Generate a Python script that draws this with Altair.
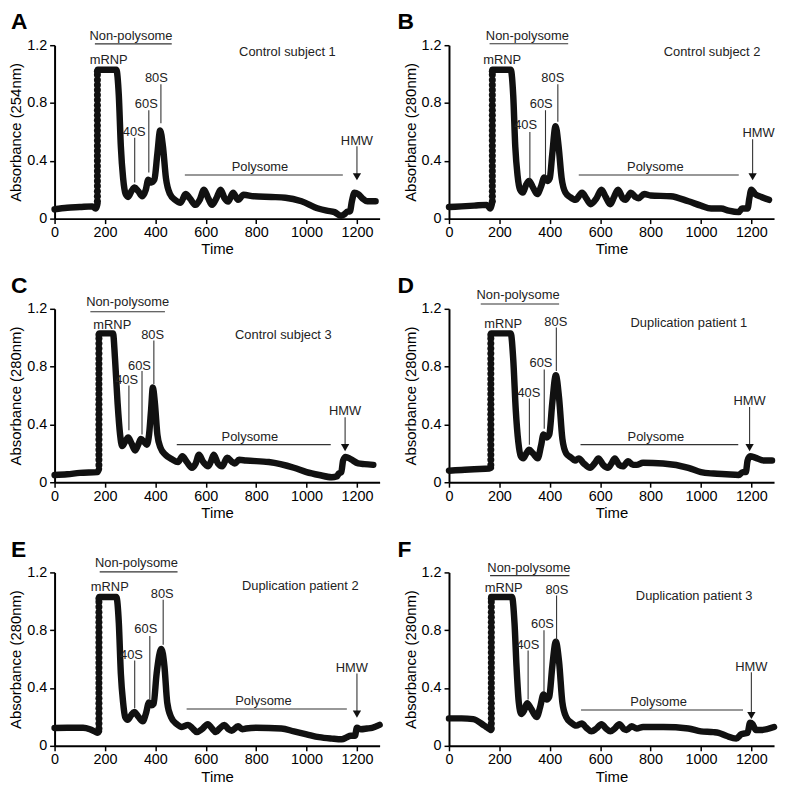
import altair as alt
import pandas as pd

FONT = "Liberation Sans"
X_TICKS = [0, 200, 400, 600, 800, 1000, 1200]
Y_TICKS = [0, 0.4, 0.8, 1.2]
LETTERS = ["A", "B", "C", "D", "E", "F"]
SUBJECTS = ["Control subject 1", "Control subject 2", "Control subject 3",
            "Duplication patient 1", "Duplication patient 2", "Duplication patient 3"]
Y_TITLES = ["Absorbance (254nm)", "Absorbance (280nm)", "Absorbance (280nm)",
            "Absorbance (280nm)", "Absorbance (280nm)", "Absorbance (280nm)"]
LABELS = ["Non-polysome", "mRNP", "40S", "60S", "80S", "SUBJECT", "Polysome", "HMW"]

# dots of the steep rise at the start of the mRNP peak
RISE_Y = [0.12, 0.155, 0.19, 0.225, 0.26, 0.295, 0.33, 0.365, 0.40, 0.435, 0.47, 0.505,
          0.54, 0.575, 0.61, 0.645, 0.68, 0.715, 0.75, 0.785, 0.82, 0.855, 0.89, 0.925,
          0.96, 0.995, 1.02]
RISE_X = [170, 172, 176, 166, 176, 168]

# ---- profiles ----
A_T = [0, 50, 100, 150, 163, 170, 172, 245, 255, 263, 272, 282, 292, 305, 318, 332, 348, 362, 372, 384, 396, 408, 419, 430, 442, 458, 478, 500, 520, 537, 559, 576, 593, 610, 625, 642, 659, 675, 689, 708, 728, 750, 790, 860, 916, 980, 1046, 1080, 1111, 1137, 1150, 1163, 1172, 1180, 1190, 1205, 1222, 1241, 1274]
A_Y = [0.065, 0.075, 0.08, 0.085, 0.07, 0.1, 1.03, 1.03, 0.85, 0.5, 0.28, 0.17, 0.15, 0.19, 0.215, 0.19, 0.155, 0.2, 0.27, 0.25, 0.27, 0.45, 0.61, 0.5, 0.28, 0.17, 0.13, 0.11, 0.17, 0.14, 0.095, 0.13, 0.2, 0.14, 0.095, 0.14, 0.2, 0.14, 0.118, 0.18, 0.13, 0.165, 0.155, 0.15, 0.145, 0.12, 0.07, 0.055, 0.045, 0.02, 0.03, 0.05, 0.05, 0.12, 0.18, 0.17, 0.14, 0.12, 0.12]

B_T = [0, 50, 100, 150, 163, 170, 173, 245, 255, 263, 272, 282, 293, 305, 318, 332, 350, 365, 378, 390, 400, 410, 423, 435, 447, 462, 480, 502, 528, 545, 562, 585, 605, 622, 640, 655, 671, 690, 700, 722, 740, 752, 775, 800, 880, 950, 1000, 1040, 1080, 1110, 1150, 1163, 1185, 1192, 1200, 1215, 1240, 1270]
B_Y = [0.08, 0.085, 0.09, 0.095, 0.07, 0.1, 1.03, 1.03, 0.85, 0.5, 0.3, 0.2, 0.18, 0.23, 0.26, 0.22, 0.17, 0.22, 0.285, 0.26, 0.28, 0.45, 0.64, 0.5, 0.28, 0.18, 0.15, 0.13, 0.18, 0.14, 0.1, 0.14, 0.2, 0.15, 0.1, 0.15, 0.2, 0.14, 0.13, 0.18, 0.15, 0.14, 0.17, 0.16, 0.155, 0.12, 0.09, 0.07, 0.07, 0.055, 0.045, 0.07, 0.07, 0.14, 0.2, 0.17, 0.15, 0.13]

C_T = [0, 50, 100, 170, 176, 178, 232, 240, 250, 260, 268, 280, 292, 305, 320, 332, 343, 355, 366, 375, 383, 390, 398, 408, 420, 440, 465, 490, 507, 525, 545, 560, 573, 590, 610, 622, 632, 648, 665, 685, 705, 715, 732, 760, 850, 950, 1000, 1050, 1100, 1120, 1128, 1138, 1145, 1155, 1175, 1205, 1230, 1265]
C_Y = [0.05, 0.055, 0.065, 0.07, 0.09, 1.03, 1.03, 0.85, 0.55, 0.33, 0.25, 0.28, 0.31, 0.27, 0.22, 0.26, 0.3, 0.28, 0.26, 0.33, 0.5, 0.655, 0.55, 0.33, 0.24, 0.19, 0.16, 0.14, 0.18, 0.14, 0.1, 0.13, 0.19, 0.14, 0.11, 0.15, 0.19, 0.13, 0.11, 0.17, 0.14, 0.13, 0.155, 0.15, 0.14, 0.1, 0.07, 0.05, 0.035, 0.04, 0.06, 0.07, 0.15, 0.175, 0.16, 0.13, 0.125, 0.12]

D_T = [0, 50, 100, 160, 166, 168, 245, 255, 265, 275, 285, 295, 307, 318, 333, 352, 365, 375, 388, 398, 410, 424, 437, 450, 465, 485, 500, 515, 535, 560, 578, 593, 612, 630, 645, 658, 675, 690, 711, 730, 745, 770, 850, 950, 1000, 1050, 1100, 1150, 1165, 1178, 1185, 1195, 1215, 1250, 1282]
D_Y = [0.08, 0.085, 0.09, 0.095, 0.1, 1.03, 1.03, 0.85, 0.5, 0.28, 0.18, 0.165, 0.2, 0.225, 0.2, 0.165, 0.25, 0.33, 0.31, 0.33, 0.55, 0.74, 0.58, 0.3, 0.2, 0.17, 0.15, 0.165, 0.13, 0.1, 0.13, 0.165, 0.12, 0.1, 0.13, 0.165, 0.12, 0.11, 0.145, 0.12, 0.12, 0.135, 0.13, 0.1, 0.07, 0.06, 0.055, 0.05, 0.07, 0.07, 0.15, 0.18, 0.17, 0.15, 0.15]

E_T = [0, 50, 113, 140, 159, 172, 176, 178, 245, 255, 263, 272, 280, 290, 303, 316, 333, 350, 362, 375, 385, 393, 405, 424, 436, 447, 462, 485, 505, 530, 548, 565, 585, 608, 625, 640, 655, 674, 690, 703, 728, 745, 760, 800, 900, 950, 1000, 1050, 1100, 1140, 1160, 1175, 1192, 1200, 1215, 1240, 1260, 1290]
E_Y = [0.124, 0.125, 0.125, 0.115, 0.1, 0.09, 0.1, 1.03, 1.03, 0.85, 0.5, 0.3, 0.2, 0.18, 0.21, 0.235, 0.2, 0.17, 0.22, 0.3, 0.28, 0.29, 0.5, 0.67, 0.55, 0.3, 0.2, 0.15, 0.13, 0.145, 0.12, 0.095, 0.115, 0.15, 0.12, 0.095, 0.12, 0.145, 0.115, 0.105, 0.135, 0.115, 0.12, 0.125, 0.12, 0.1, 0.08, 0.06, 0.05, 0.045, 0.06, 0.07, 0.07, 0.125, 0.115, 0.12, 0.125, 0.145]

F_T = [0, 50, 96, 140, 157, 166, 168, 250, 260, 268, 277, 287, 297, 310, 325, 348, 362, 375, 388, 398, 410, 424, 437, 450, 465, 485, 505, 527, 545, 565, 585, 605, 623, 640, 658, 676, 695, 705, 725, 745, 770, 850, 950, 1000, 1050, 1070, 1100, 1140, 1160, 1185, 1195, 1205, 1218, 1240, 1290]
F_Y = [0.19, 0.19, 0.185, 0.14, 0.12, 0.11, 1.03, 1.03, 0.85, 0.55, 0.3, 0.22, 0.24, 0.295, 0.26, 0.2, 0.27, 0.355, 0.32, 0.34, 0.55, 0.72, 0.58, 0.3, 0.2, 0.16, 0.14, 0.155, 0.125, 0.1, 0.12, 0.15, 0.12, 0.1, 0.12, 0.15, 0.115, 0.11, 0.135, 0.12, 0.13, 0.13, 0.12, 0.1, 0.095, 0.09, 0.07, 0.05, 0.08, 0.09, 0.16, 0.15, 0.11, 0.11, 0.13]

# ---- annotation positions (data units) ----
# label order: Non-polysome, mRNP, 40S, 60S, 80S, subject, Polysome, HMW
TXT_X = [[303, 215, 316, 364, 404, 924, 815, 1200],
         [311, 211, 304, 366, 412, 1044, 819, 1229],
         [290, 229, 286, 337, 389, 908, 775, 1153],
         [274, 215, 317, 365, 424, 952, 821, 1193],
         [325, 219, 305, 362, 427, 975, 829, 1180],
         [317, 217, 313, 371, 428, 973, 832, 1200]]
TXT_Y = [[1.265, 1.094, 0.60, 0.795, 0.97, 1.15, 0.355, 0.54],
         [1.265, 1.10, 0.65, 0.79, 0.97, 1.15, 0.355, 0.59],
         [1.244, 1.09, 0.707, 0.807, 1.02, 1.02, 0.315, 0.493],
         [1.293, 1.093, 0.62, 0.827, 1.107, 1.10, 0.315, 0.56],
         [1.266, 1.10, 0.63, 0.806, 1.05, 1.107, 0.31, 0.54],
         [1.233, 1.094, 0.70, 0.846, 1.078, 1.034, 0.303, 0.547]]
# vertical pointer lines: 40S, 60S, 80S, HMW arrow
VR_X = [[318, 374, 422, 1200], [321, 383, 432, 1205], [295, 347, 394, 1153],
        [319, 378, 426, 1193], [318, 378, 431, 1200], [314, 377, 427, 1200]]
VR_Y1 = [[0.56, 0.75, 0.93, 0.50], [0.60, 0.75, 0.93, 0.55], [0.67, 0.77, 0.98, 0.45],
         [0.58, 0.78, 1.07, 0.52], [0.59, 0.76, 1.01, 0.50], [0.66, 0.80, 1.04, 0.51]]
VR_Y2 = [[0.25, 0.32, 0.66, 0.29], [0.27, 0.30, 0.67, 0.29], [0.36, 0.33, 0.68, 0.24],
         [0.26, 0.37, 0.77, 0.24], [0.26, 0.32, 0.70, 0.22], [0.32, 0.37, 0.73, 0.21]]
# horizontal lines: Non-polysome, Polysome
HR_X1 = [[160, 517], [161, 515], [142, 485], [126, 522], [179, 524], [163, 524]]
HR_X2 = [[465, 1144], [473, 1150], [438, 1096], [437, 1148], [488, 1160], [478, 1167]]
HR_Y = [[1.209, 0.302], [1.21, 0.302], [1.18, 0.26], [1.233, 0.26], [1.204, 0.255], [1.178, 0.248]]

PROFILES = [(A_T, A_Y), (B_T, B_Y), (C_T, C_Y), (D_T, D_Y), (E_T, E_Y), (F_T, F_Y)]

W, H = 328, 175
XS = alt.Scale(domain=[0, 1290], nice=False)
YS = alt.Scale(domain=[0, 1.2], nice=False)
INK = "#111111"


def make_panel(i):
    t, y = PROFILES[i]
    seg, s = [], 0
    for k in range(len(y)):
        if k > 0 and y[k] - y[k - 1] > 0.5:
            s += 1
        seg.append(s)
    prof = pd.DataFrame({"t": t, "a": y, "seg": seg})

    xaxis = alt.Axis(values=X_TICKS, format="d", title="Time", labelFlush=False,
                     labelFontSize=14.5, titleFontSize=15, labelPadding=2, titlePadding=3)
    yaxis = alt.Axis(values=Y_TICKS, format=".1~f", title=Y_TITLES[i], labelFlush=False,
                     labelFontSize=14.5, titleFontSize=15, labelPadding=3, titlePadding=3)
    X = alt.X("t:Q", scale=XS, axis=xaxis)
    Y = alt.Y("a:Q", scale=YS, axis=yaxis)

    line = alt.Chart(prof).mark_line(
        interpolate="monotone", strokeWidth=6.5, color=INK, strokeJoin="round", strokeCap="round"
    ).encode(x=X, y=Y, detail="seg:N")

    rise = alt.Chart(pd.DataFrame({"t": [RISE_X[i]] * len(RISE_Y), "a": RISE_Y})).mark_circle(
        size=50, color=INK, opacity=1
    ).encode(x=X, y=Y)

    labels = [SUBJECTS[i] if l == "SUBJECT" else l for l in LABELS]
    txt = alt.Chart(pd.DataFrame({"t": TXT_X[i], "a": TXT_Y[i], "lab": labels})).mark_text(
        font=FONT, fontSize=13, color="#222222", align="center", baseline="middle"
    ).encode(x=X, y=Y, text="lab:N")

    vr = alt.Chart(pd.DataFrame({"t": VR_X[i], "a": VR_Y1[i], "a2": VR_Y2[i]})).mark_rule(
        color="#333333", strokeWidth=1.1
    ).encode(x=X, y=Y, y2="a2:Q")

    hr = alt.Chart(pd.DataFrame({"t": HR_X1[i], "t2": HR_X2[i], "a": HR_Y[i]})).mark_rule(
        color="#333333", strokeWidth=1.1
    ).encode(x=X, x2="t2:Q", y=Y)

    head = alt.Chart(pd.DataFrame({"t": [VR_X[i][3]], "a": [VR_Y2[i][3]]})).mark_point(
        shape="triangle-down", filled=True, size=70, color=INK, opacity=1
    ).encode(x=X, y=Y)

    dx = -44 if i % 2 == 0 else -52
    letter = alt.Chart(pd.DataFrame({"l": [LETTERS[i]]})).mark_text(
        font=FONT, fontSize=23, fontWeight="bold", color="black", align="left", baseline="alphabetic"
    ).encode(x=alt.value(dx), y=alt.value(-16), text="l:N")

    return alt.layer(line, rise, hr, vr, head, txt, letter).properties(width=W, height=H)


panels = [make_panel(i) for i in range(6)]
chart = alt.concat(*panels, columns=2, spacing={"row": 91, "column": 70}, bounds="flush").properties(
    padding=0
).configure_view(stroke=None).configure_axis(
    grid=False, domainColor="black", domainWidth=2, tickColor="black", tickWidth=1.5, tickSize=5,
    labelColor="black", titleColor="black", labelFont=FONT, titleFont=FONT, titleFontWeight="normal"
)

chart.save("out.html", embed_options={"renderer": "svg", "actions": False})
